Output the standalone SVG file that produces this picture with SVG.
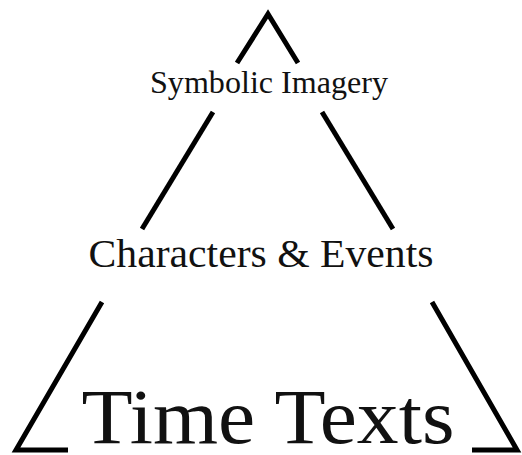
<svg xmlns="http://www.w3.org/2000/svg" width="522" height="455" viewBox="0 0 522 455">
<style>
.edge{fill:none;stroke:#000;stroke-width:5;stroke-linecap:butt;stroke-linejoin:miter}
.lbl{font-family:"Liberation Serif","DejaVu Serif",serif;fill:#111;text-anchor:middle}
</style>
<rect width="522" height="455" fill="#fff"/>
<g id="connectors">
<polyline class="edge" points="237,63 268,14 298,63"/>
<line class="edge" x1="213" y1="112" x2="142" y2="229"/>
<line class="edge" x1="322" y1="112" x2="393" y2="229"/>
<polyline class="edge" points="102,302 16,450 68,450"/>
<polyline class="edge" points="432,302 517,450 472,450"/>
</g>
<g id="symbolic-imagery">
<text class="lbl" x="269" y="93" font-size="31" textLength="238" lengthAdjust="spacingAndGlyphs">Symbolic Imagery</text>
</g>
<g id="characters-events">
<text class="lbl" x="261" y="267" font-size="41" textLength="345" lengthAdjust="spacingAndGlyphs">Characters &amp; Events</text>
</g>
<g id="time-texts">
<text class="lbl" x="268" y="443" font-size="79" textLength="373" lengthAdjust="spacingAndGlyphs">Time Texts</text>
</g>
</svg>
